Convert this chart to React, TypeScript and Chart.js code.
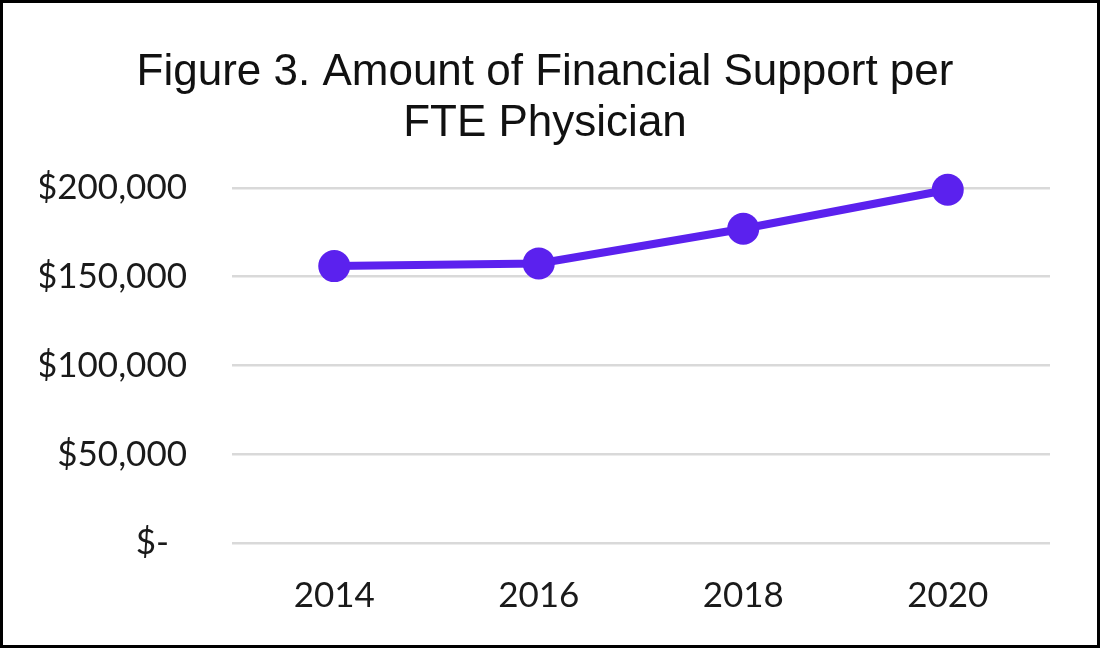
import React, { useEffect, useRef } from "react";
import { Chart, registerables } from "chart.js";

Chart.register(...registerables);

const titleLines = ["Figure 3. Amount of Financial Support per", "FTE Physician"];
const years = ["2014", "2016", "2018", "2020"];
const supportPerFTE = [156000, 157500, 177000, 199000];
const yTickValues = [0, 50000, 100000, 150000, 200000];
const yTickLabels = ["$-", "$50,000", "$100,000", "$150,000", "$200,000"];

export default function App() {
  const ref = useRef<HTMLCanvasElement | null>(null);

  useEffect(() => {
    if (!ref.current) return;
    const chart = new Chart(ref.current, {
      type: "line",
      data: {
        labels: years,
        datasets: [
          {
            data: supportPerFTE,
            borderColor: "#5b21ee",
            backgroundColor: "#5b21ee",
            borderWidth: 8,
            pointRadius: 16,
            pointHoverRadius: 16,
            pointBorderWidth: 0,
            pointBackgroundColor: "#5b21ee",
            tension: 0,
            clip: false as any,
          },
        ],
      },
      options: {
        responsive: false,
        animation: false,
        layout: { padding: { left: 37, right: 47, top: 0, bottom: 0 } },
        plugins: {
          legend: { display: false },
          tooltip: { enabled: false },
          title: {
            display: true,
            text: titleLines,
            color: "#111111",
            font: { family: "'Liberation Sans', Arial, sans-serif", size: 44, weight: "normal", lineHeight: 1.17 },
            padding: { top: 44, bottom: 38 },
          },
        },
        scales: {
          x: {
            offset: true,
            grid: { display: false, drawTicks: false },
            border: { display: false },
            ticks: {
              color: "#1a1a1a",
              font: { family: "Lato, 'Open Sans', sans-serif", size: 35 },
              padding: 32,
              maxRotation: 0,
            },
            afterFit: (scale: any) => {
              scale.height = 102;
            },
          },
          y: {
            min: 0,
            max: 200000,
            afterBuildTicks: (scale: any) => {
              scale.ticks = yTickValues.map((v) => ({ value: v }));
            },
            grid: { color: "#d9d9d9", lineWidth: 2.5, drawTicks: false },
            border: { display: false },
            ticks: {
              color: "#1a1a1a",
              font: { family: "Lato, 'Open Sans', sans-serif", size: 35 },
              padding: 45,
              callback: (_v: any, i: number) => (i === 0 ? yTickLabels[i] + "  " : yTickLabels[i]),
            },
            afterFit: (scale: any) => {
              scale.width = 192;
            },
          },
        },
      },
    });
    return () => chart.destroy();
  }, []);

  return (
    <div
      style={{
        position: "absolute",
        left: 0,
        top: 0,
        width: 1100,
        height: 648,
        boxSizing: "border-box",
        border: "3px solid #000",
        background: "#fff",
      }}
    >
      <canvas ref={ref} width={1094} height={642} style={{ display: "block" }} />
    </div>
  );
}
